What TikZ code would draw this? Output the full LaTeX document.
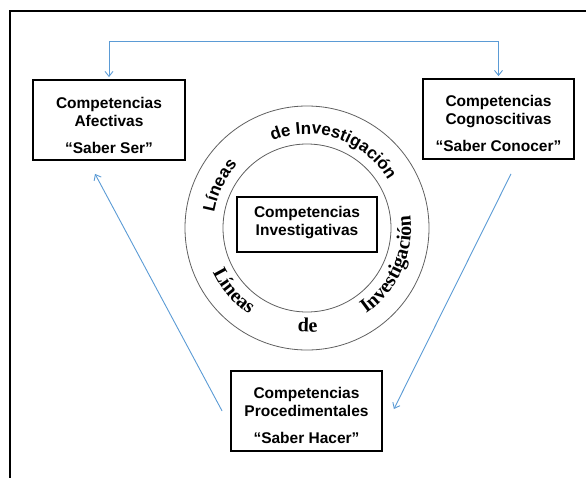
\documentclass[tikz,border=0pt]{standalone}
\usepackage{fontspec}
\setmainfont{Liberation Sans}
\newfontfamily\ringserif{Liberation Serif}
\usetikzlibrary{arrows.meta,decorations.text}
\definecolor{arrblue}{RGB}{91,155,213}
\definecolor{ringgray}{RGB}{95,95,95}
\newcommand\ringsansfont{\bfseries\fontsize{17}{17}\selectfont}
\newcommand\ringseriffont{\ringserif\bfseries\fontsize{20}{20}\selectfont}
\tikzset{btip/.tip={Straight Barb[length=5pt,width=8pt]}}
\begin{document}
\begin{tikzpicture}[x=1pt,y=1pt,
  boxframe/.style={draw=black, line width=1.8pt, inner sep=0pt, minimum width=151pt, minimum height=80pt},
  boxtxt/.style={align=center, font=\fontsize{15.5}{18}\selectfont\bfseries, inner sep=0pt},
  conn/.style={draw=arrblue, line width=0.9pt},
  ring/.style={circle, draw=ringgray, line width=0.8pt, inner sep=0pt}
]
\useasboundingbox (0,0) rectangle (586,-477);
\clip (0,0) rectangle (586,-477);
% outer frame
\draw[line width=2.6pt] (10,-11) rectangle (700,-600);

% rings
\coordinate (c) at (307,-228);
\node[ring, minimum size=244pt] (outer) at (c) {};
\node[ring, minimum size=168pt] (inner) at (c) {};

% ring texts
\path[decorate, decoration={text along path, text={|\ringsansfont|Líneas}, text align=center}]
  ([shift={(175:94)}]c) arc[start angle=175, end angle=133, radius=94];
\path[decorate, decoration={text along path, text={|\ringsansfont|de Investigación}, text align=center}]
  ([shift={(120:94)}]c) arc[start angle=120, end angle=22, radius=94];
\path[decorate, decoration={text along path, text={|\ringseriffont|Líneas de Investigación}, text align={fit to path stretching spaces}}]
  ([shift={(205:104)}]c) arc[start angle=205, end angle=367, radius=104];

% boxes
\node[boxframe, minimum width=152pt] (afb) at (109,-120) {};
\node[boxtxt] (aft) at (109,-125) {Competencias\\Afectivas\\[9pt]“Saber Ser”};

\node[boxframe] (cgb) at (498.5,-119) {};
\node[boxtxt] (cgt) at (498.5,-123) {Competencias\\Cognoscitivas\\[9pt]“Saber Conocer”};

\node[boxframe] (pb) at (306.5,-411) {};
\node[boxtxt] (pt) at (306.5,-415) {Competencias\\Procedimentales\\[9pt]“Saber Hacer”};

\node[boxframe, minimum width=140pt, minimum height=55pt] (ib) at (307,-224.5) {};
\node[boxtxt] (it) at (307,-223) {Competencias\\Investigativas};

% connectors
\draw[conn, btip-btip] ([yshift=2pt]afb.north) -- ++(0,36) -| ([yshift=2pt]cgb.north);
\draw[conn, -btip] ([xshift=-8pt]pb.west) -- ([shift={(-14pt,-13pt)}]afb.south);
\draw[conn, -btip] ([shift={(12.5pt,-14pt)}]cgb.south) -- ([shift={(11pt,2pt)}]pb.east);
\end{tikzpicture}
\end{document}
